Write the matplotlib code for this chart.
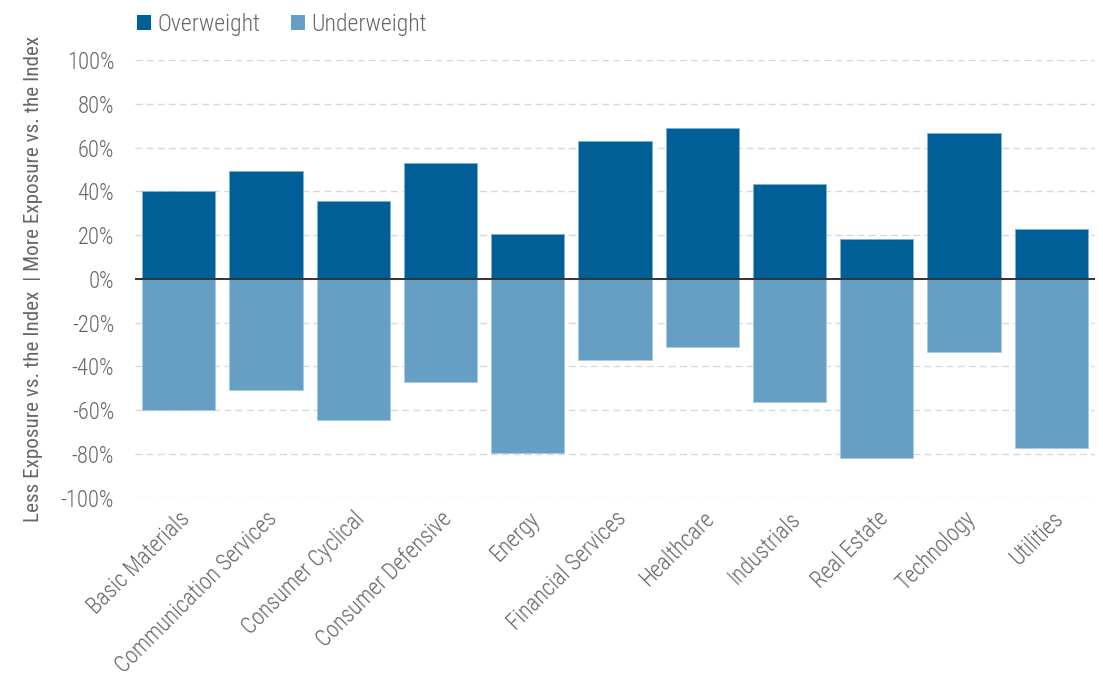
import matplotlib
matplotlib.use("Agg")
import matplotlib.pyplot as plt
from matplotlib.patches import Patch
from matplotlib.ticker import FuncFormatter

sectors = [
    "Basic Materials", "Communication Services", "Consumer Cyclical",
    "Consumer Defensive", "Energy", "Financial Services", "Healthcare",
    "Industrials", "Real Estate", "Technology", "Utilities",
]
overweight = [40.0, 49.3, 35.4, 52.7, 20.5, 63.0, 68.7, 43.5, 18.2, 66.6, 22.7]
underweight = [-60.0, -50.7, -64.6, -47.3, -79.5, -37.0, -31.3, -56.5, -81.8, -33.4, -77.3]
y_ticks = [-100, -80, -60, -40, -20, 0, 20, 40, 60, 80, 100]

DARK = "#005f96"
LIGHT = "#669fc4"
TEXT = "#666666"

plt.rcParams["font.family"] = ["Roboto Condensed", "IBM Plex Sans Condensed", "DejaVu Sans"]
plt.rcParams["font.weight"] = "light"

fig = plt.figure(figsize=(11.03, 6.79), dpi=100)
ax = fig.add_axes([0.1224, 0.2673, 0.8703, 0.6443])

x = list(range(len(sectors)))
ax.bar(x, overweight, width=0.84, color=DARK, edgecolor="#7fb0d3",
       linewidth=0.6, zorder=3)
ax.bar(x, underweight, width=0.84, color=LIGHT, edgecolor="#a9cbe3",
       linewidth=0.6, zorder=3)

ax.axhline(0, color="#333333", linewidth=1.4, zorder=4)

ax.set_xlim(-0.5, len(sectors) - 0.5)
ax.set_ylim(-100, 100)
ax.set_yticks(y_ticks)
ax.yaxis.set_major_formatter(FuncFormatter(lambda v, _: f"{v:.0f}%"))
ax.grid(axis="y", color="#d9d9d9", linestyle=(0, (5, 3)), linewidth=1.0, zorder=0)
ax.set_axisbelow(True)

for s in ax.spines.values():
    s.set_visible(False)
ax.tick_params(axis="both", length=0, colors=TEXT, labelsize=16.3)
ax.tick_params(axis="y", pad=15)

ax.set_xticks(x)
ax.set_xticklabels(sectors, rotation=45, ha="right", rotation_mode="anchor",
                   fontsize=16.3, color=TEXT)
ax.tick_params(axis="x", pad=7)

ax.set_ylabel("Less Exposure vs. the Index  | More Exposure vs. the Index",
              fontsize=15.2, color=TEXT, labelpad=13)

handles = [Patch(facecolor=DARK, label="Overweight"),
           Patch(facecolor=LIGHT, label="Underweight")]
fig.legend(handles=handles, loc="upper left", bbox_to_anchor=(0.105, 1.012),
           ncol=2, frameon=False, fontsize=17, handlelength=0.6,
           handleheight=0.6, handletextpad=0.25, columnspacing=1.3,
           labelcolor=TEXT)

fig.savefig("out.png", dpi=100)
